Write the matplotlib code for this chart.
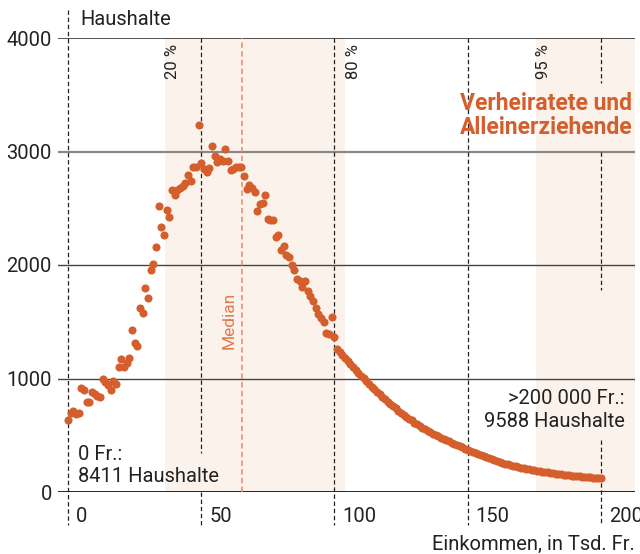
import matplotlib
matplotlib.use("Agg")
import matplotlib.pyplot as plt
from matplotlib.transforms import ScaledTranslation

plt.rcParams['font.family'] = ['Roboto', 'DejaVu Sans']

# Einkommen in Tsd. Fr. (Schritt 1) und Anzahl Haushalte
einkommen = list(range(0, 201))
haushalte = [
    635, 700, 710, 685, 700, 915, 900, 795, 790, 885,
    865, 850, 840, 995, 965, 940, 895, 980, 950, 1105,
    1170, 1105, 1135, 1180, 1430, 1317, 1290, 1620, 1580, 1796,
    1710, 1958, 2010, 2155, 2516, 2334, 2266, 2487, 2422, 2663,
    2619, 2660, 2678, 2698, 2722, 2795, 2736, 2863, 2863, 3236,
    2898, 2850, 2816, 2854, 3051, 2957, 2904, 2930, 2913, 3022,
    2913, 2840, 2850, 2863, 2863, 2863, 2780, 2669, 2707, 2678,
    2640, 2472, 2540, 2546, 2616, 2402, 2400, 2399, 2246, 2266,
    2134, 2169, 2090, 2070, 2002, 1958, 1876, 1860, 1810, 1855,
    1775, 1730, 1687, 1620, 1567, 1530, 1502, 1405, 1393, 1546,
    1370, 1262, 1235, 1208, 1182, 1156, 1130, 1104, 1078, 1052,
    1026, 1001, 976, 952, 928, 905, 882, 860, 838, 817,
    796, 776, 756, 737, 718, 700, 680, 663, 646, 630,
    612, 597, 582, 568, 554, 540, 527, 514, 502, 490,
    478, 467, 456, 445, 434, 423, 413, 403, 393, 383,
    373, 364, 354, 344, 334, 324, 315, 306, 297, 288,
    280, 272, 264, 257, 250, 243, 237, 231, 225, 219,
    214, 209, 204, 199, 195, 191, 187, 183, 179, 175,
    172, 168, 165, 162, 159, 156, 153, 150, 148, 145,
    143, 140, 138, 136, 133, 131, 129, 127, 125, 123,
    121,
]

yticks = [0, 1000, 2000, 3000, 4000]
xticks = [0, 50, 100, 150, 200]
quantile = {'20 %': 36.4, '80 %': 104.0, '95 %': 175.6}
median = 65.3

orange = '#d45f2c'
band = '#fbf2ec'
ink = '#222222'

fig = plt.figure(figsize=(6.4, 5.54), dpi=100)
ax = fig.add_axes([58 / 640, 62 / 554, 577 / 640, 454 / 554])
ax.set_xlim(-3.75, 212.8)
ax.set_ylim(0, 4000)
for s in ax.spines.values():
    s.set_visible(False)

# Bänder 20-80 % und ab 95 %
ax.axvspan(quantile['20 %'], quantile['80 %'], color=band, lw=0, zorder=0)
ax.axvspan(quantile['95 %'], 212.8, color=band, lw=0, zorder=0)

# horizontale Linien
grid_style = {0: ('#111111', 2.0), 1000: ('#444444', 1.0), 2000: ('#444444', 1.0),
              3000: ('#888888', 1.6), 4000: ('#333333', 1.2)}
for yv, (c, w) in grid_style.items():
    ax.axhline(yv, color=c, lw=w, zorder=1)

# vertikale gestrichelte Linien (mit Lücken für Texte)
dash = (0, (3.5, 2.2))
segments = {0: [(4250, -291)],
            50: [(4000, 344), (0, -291)],
            100: [(4000, -291)],
            150: [(4000, -291)],
            200: [(4000, 3607), (3000, 1781), (458, -291)]}
for xv, segs in segments.items():
    for y0, y1 in segs:
        ax.plot([xv, xv], [y0, y1], color=ink, lw=0.9, ls=dash, clip_on=False, zorder=1)

ax.plot([median, median], [0, 4000], color='#e58a62', lw=1.1, ls=(0, (3.5, 2.2)), zorder=1)
ax.text(median - 4.7, 1508, 'Median', rotation=90, color='#e07a4c', fontsize=12.5,
        ha='center', va='center')

for lab, q in quantile.items():
    ax.text(q + 3, 3951, lab, rotation=90, color=ink, fontsize=12, ha='center', va='top')

ax.scatter(einkommen, haushalte, s=34, color=orange, lw=0, zorder=3, clip_on=False)

# Achsen
ax.set_yticks(yticks)
ax.set_yticklabels([str(v) for v in yticks])
ax.set_xticks(xticks)
ax.set_xticklabels([str(v) for v in xticks])
ax.tick_params(axis='both', length=0, labelsize=14.5, colors=ink)
ax.tick_params(axis='y', pad=4.5)
ax.tick_params(axis='x', pad=11)
for lab in ax.get_xticklabels():
    lab.set_horizontalalignment('left')
    lab.set_transform(lab.get_transform() + ScaledTranslation(0.08, 0, fig.dpi_scale_trans))

ax.text(4.5, 4162, 'Haushalte', fontsize=14.5, color=ink, va='center', ha='left', clip_on=False)
ax.text(212.8, -379, 'Einkommen, in Tsd. Fr.', fontsize=14.5, color=ink, va='top', ha='right',
        clip_on=False)

ax.text(212, 3527, 'Verheiratete und\nAlleinerziehende', fontsize=16.5, fontweight='bold',
        color=orange, ha='right', va='top', multialignment='left', linespacing=1.1)

ax.text(3.75, 50, '0 Fr.:\n8411 Haushalte', fontsize=14.5, color=ink, ha='left', va='bottom',
        linespacing=1.25)
ax.text(209, 538, '>200 000 Fr.:\n9588 Haushalte', fontsize=14.5, color=ink, ha='right',
        va='bottom', multialignment='right', linespacing=1.25)

fig.savefig('out.png', dpi=100)
